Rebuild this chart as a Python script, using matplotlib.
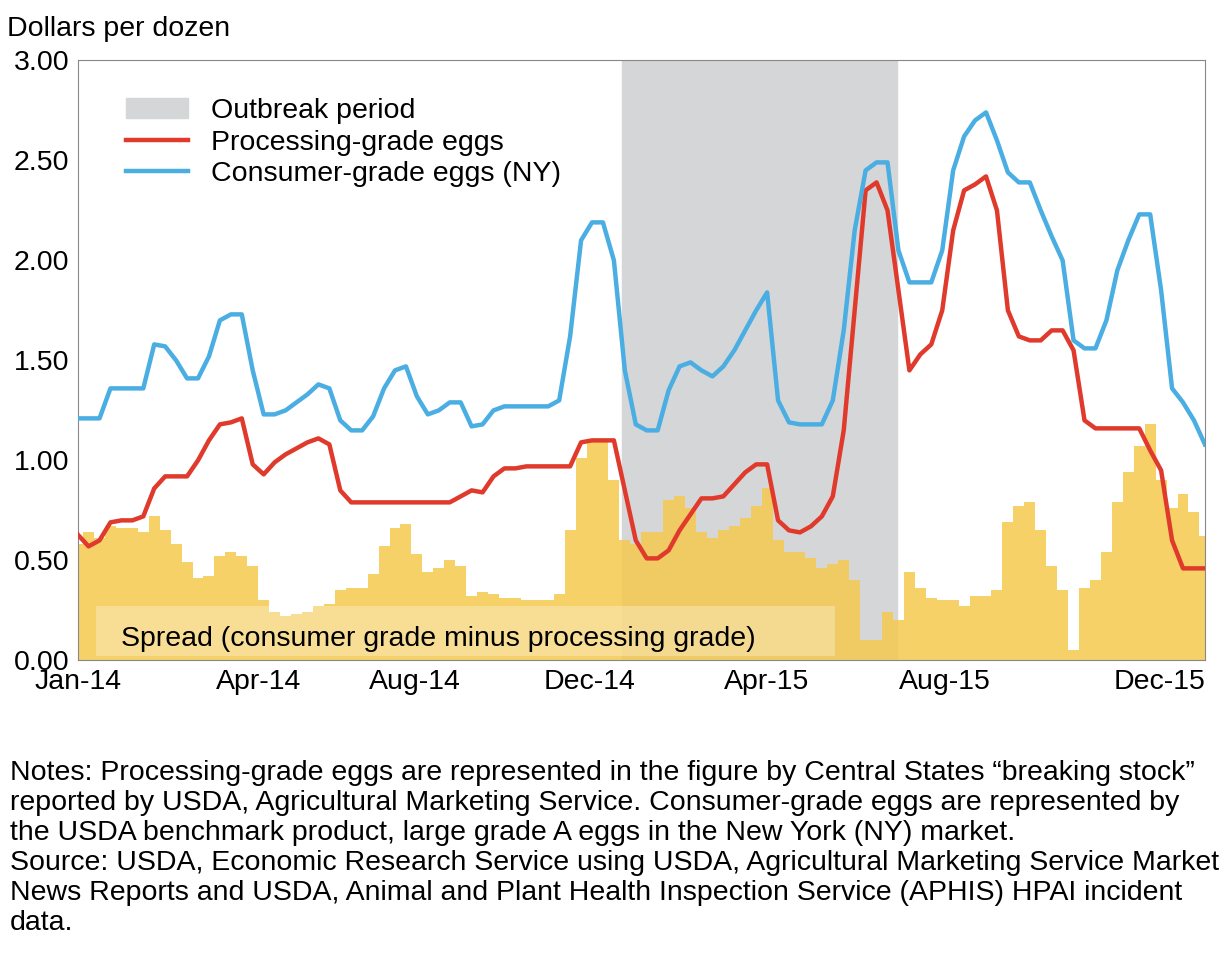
import numpy as np
import matplotlib.pyplot as plt
from matplotlib.patches import Rectangle

plt.rcParams['font.family'] = ['Liberation Sans', 'DejaVu Sans']

# weekly prices, Jan 2014 - Dec 2015 (dollars per dozen)
consumer = [1.21, 1.21, 1.21, 1.36, 1.36, 1.36, 1.36, 1.58, 1.57, 1.50,
            1.41, 1.41, 1.52, 1.70, 1.73, 1.73, 1.45, 1.23, 1.23, 1.25,
            1.29, 1.33, 1.38, 1.36, 1.20, 1.15, 1.15, 1.22, 1.36, 1.45,
            1.47, 1.32, 1.23, 1.25, 1.29, 1.29, 1.17, 1.18, 1.25, 1.27,
            1.27, 1.27, 1.27, 1.27, 1.30, 1.62, 2.10, 2.19, 2.19, 2.00,
            1.45, 1.18, 1.15, 1.15, 1.35, 1.47, 1.49, 1.45, 1.42, 1.47,
            1.55, 1.65, 1.75, 1.84, 1.30, 1.19, 1.18, 1.18, 1.18, 1.30,
            1.65, 2.15, 2.45, 2.49, 2.49, 2.05, 1.89, 1.89, 1.89, 2.05,
            2.45, 2.62, 2.70, 2.74, 2.60, 2.44, 2.39, 2.39, 2.25, 2.12,
            2.00, 1.60, 1.56, 1.56, 1.70, 1.95, 2.10, 2.23, 2.23, 1.85,
            1.36, 1.29, 1.20, 1.08]
processing = [0.63, 0.57, 0.60, 0.69, 0.70, 0.70, 0.72, 0.86, 0.92, 0.92,
              0.92, 1.00, 1.10, 1.18, 1.19, 1.21, 0.98, 0.93, 0.99, 1.03,
              1.06, 1.09, 1.11, 1.08, 0.85, 0.79, 0.79, 0.79, 0.79, 0.79,
              0.79, 0.79, 0.79, 0.79, 0.79, 0.82, 0.85, 0.84, 0.92, 0.96,
              0.96, 0.97, 0.97, 0.97, 0.97, 0.97, 1.09, 1.10, 1.10, 1.10,
              0.85, 0.60, 0.51, 0.51, 0.55, 0.65, 0.73, 0.81, 0.81, 0.82,
              0.88, 0.94, 0.98, 0.98, 0.70, 0.65, 0.64, 0.67, 0.72, 0.82,
              1.15, 1.75, 2.35, 2.39, 2.25, 1.85, 1.45, 1.53, 1.58, 1.75,
              2.15, 2.35, 2.38, 2.42, 2.25, 1.75, 1.62, 1.60, 1.60, 1.65,
              1.65, 1.55, 1.20, 1.16, 1.16, 1.16, 1.16, 1.16, 1.05, 0.95,
              0.60, 0.46, 0.46, 0.46]
tick_pos = [0, 16.5, 30.8, 46.8, 63, 79.2, 98.9]
tick_labels = ['Jan-14', 'Apr-14', 'Aug-14', 'Dec-14', 'Apr-15', 'Aug-15', 'Dec-15']
outbreak = (49.7, 74.9)

weeks = np.arange(len(consumer))
spread = np.array(consumer) - np.array(processing)
fs = 20.5

fig = plt.figure(figsize=(12.32, 9.74), dpi=100)
ax = fig.add_axes([0.063, 0.322, 0.915, 0.616])

ax.axvspan(outbreak[0], outbreak[1], color='#d5d6d8', label='Outbreak period', zorder=1)
ax.bar(weeks, spread, width=1.0, color='#f5c94e', alpha=0.85, linewidth=0, zorder=2)
ax.add_patch(Rectangle((1.7, 0.02), 67.5, 0.25, facecolor='white', alpha=0.3,
                       edgecolor='none', zorder=3))
ax.text(4, 0.07, 'Spread (consumer grade minus processing grade)', fontsize=fs, zorder=4)
ax.plot(weeks, processing, color='#e03a2c', lw=3.2, label='Processing-grade eggs', zorder=5)
ax.plot(weeks, consumer, color='#4aaee3', lw=3.2, label='Consumer-grade eggs (NY)', zorder=5)

ax.set_xlim(0, len(consumer) - 1)
ax.set_ylim(0, 3)
ax.set_yticks(np.arange(0, 3.01, 0.5))
ax.set_yticklabels(['%.2f' % v for v in np.arange(0, 3.01, 0.5)], fontsize=fs)
ax.set_xticks(tick_pos)
ax.set_xticklabels(tick_labels, fontsize=fs)
ax.tick_params(length=0, pad=6)
for s in ax.spines.values():
    s.set_color('#888888')
ax.text(-0.063, 1.04, 'Dollars per dozen', transform=ax.transAxes, fontsize=fs)
ax.legend(loc='upper left', bbox_to_anchor=(0.02, 0.98), frameon=False, fontsize=fs,
          handlelength=2.2, labelspacing=0.2)

notes = ("Notes: Processing-grade eggs are represented in the figure by Central States \u201cbreaking stock\u201d\n"
         "reported by USDA, Agricultural Marketing Service. Consumer-grade eggs are represented by\n"
         "the USDA benchmark product, large grade A eggs in the New York (NY) market.\n"
         "Source: USDA, Economic Research Service using USDA, Agricultural Marketing Service Market\n"
         "News Reports and USDA, Animal and Plant Health Inspection Service (APHIS) HPAI incident\n"
         "data.")
fig.text(0.008, 0.22, notes, fontsize=fs, va='top', linespacing=1.2)

fig.savefig('out.png', dpi=100)
